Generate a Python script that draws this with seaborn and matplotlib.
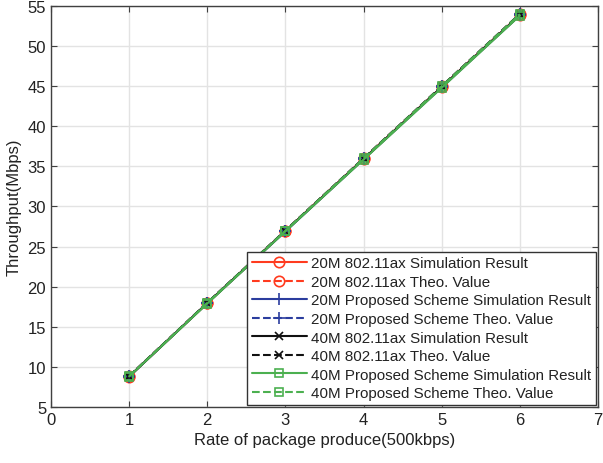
import matplotlib
matplotlib.use("Agg")
import matplotlib.pyplot as plt
import seaborn as sns
import pandas as pd

rates = [1, 2, 3, 4, 5, 6]
ax20_sim = [8.8, 17.95, 26.95, 35.95, 44.9, 53.9]
ax20_theo = [8.85, 18.0, 27.0, 36.0, 45.0, 54.0]
prop20_sim = [8.8, 17.95, 26.9, 35.9, 44.85, 53.85]
prop20_theo = [8.85, 18.0, 27.0, 36.0, 45.0, 54.0]
ax40_sim = [8.8, 17.95, 26.95, 35.9, 44.9, 53.85]
ax40_theo = [8.85, 18.0, 27.0, 36.0, 45.0, 54.0]
prop40_sim = [8.8, 17.9, 26.9, 35.85, 44.8, 53.8]
prop40_theo = [8.85, 18.0, 27.0, 36.0, 45.0, 54.0]

labels = [
    "20M 802.11ax Simulation Result",
    "20M 802.11ax Theo. Value",
    "20M Proposed Scheme Simulation Result",
    "20M Proposed Scheme Theo. Value",
    "40M 802.11ax Simulation Result",
    "40M 802.11ax Theo. Value",
    "40M Proposed Scheme Simulation Result",
    "40M Proposed Scheme Theo. Value",
]
series = [ax20_sim, ax20_theo, prop20_sim, prop20_theo, ax40_sim, ax40_theo, prop40_sim, prop40_theo]
styles = [
    dict(color="#FF3B1F", ls="-", marker="o", ms=7.5),
    dict(color="#FF3B1F", ls="--", marker="o", ms=7.5),
    dict(color="#2B3D9E", ls="-", marker="+", ms=9),
    dict(color="#2B3D9E", ls="--", marker="+", ms=9),
    dict(color="#111111", ls="-", marker="x", ms=5.5),
    dict(color="#111111", ls="--", marker="x", ms=5.5),
    dict(color="#4CB050", ls="-", marker="s", ms=5.5),
    dict(color="#4CB050", ls="--", marker="s", ms=5.5),
]

sns.set_style("whitegrid")
plt.rcParams["font.family"] = ["Liberation Sans", "DejaVu Sans"]

fig = plt.figure(figsize=(6.03, 4.64), dpi=100)
ax = fig.add_axes([0.0846, 0.1207, 0.9071, 0.8643])

for lab, vals, st in zip(labels, series, styles):
    df = pd.DataFrame({"x": rates, "y": vals})
    sns.lineplot(data=df, x="x", y="y", ax=ax, color=st["color"], linestyle=st["ls"],
                 marker=st["marker"], markerfacecolor="none", markeredgecolor=st["color"],
                 markersize=st["ms"], markeredgewidth=1.2, linewidth=1.5, label=lab)

ax.set_xlim(0, 7)
ax.set_ylim(5, 55)
ax.set_xticks(range(0, 8))
ax.set_yticks(range(5, 56, 5))
ax.grid(True, color="#E3E3E3", linewidth=1.0)
for sp in ax.spines.values():
    sp.set_color("#404040")
    sp.set_linewidth(1.0)
ax.tick_params(direction="in", length=4, color="#404040", labelsize=12, labelcolor="#222222",
               top=True, right=True, bottom=True, left=True)
ax.set_xlabel("Rate of package produce(500kbps)", fontsize=12, color="#222222")
ax.set_ylabel("Throughput(Mbps)", fontsize=12, color="#222222", labelpad=4)

leg = ax.legend(loc="lower right", fontsize=10.9, handlelength=3.6, handletextpad=0.3,
                borderaxespad=0.15, labelspacing=0.3, fancybox=False, framealpha=1,
                borderpad=0.3)
leg.get_frame().set_edgecolor("#333333")
leg.get_frame().set_linewidth(1.0)
for t in leg.get_texts():
    t.set_color("#222222")

fig.savefig("out.png", dpi=100)
